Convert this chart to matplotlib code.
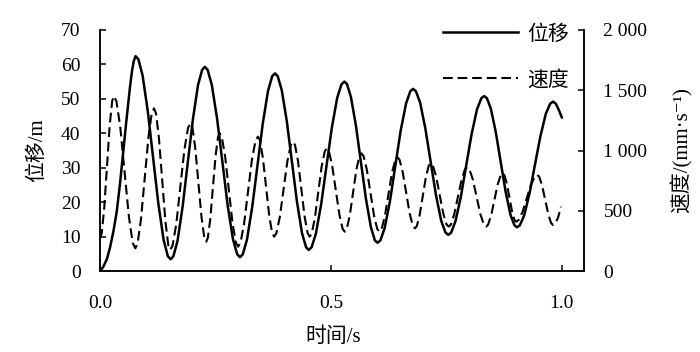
import matplotlib
matplotlib.use("Agg")
import matplotlib.pyplot as plt

# displacement (left axis, m)
t_disp = [0.000, 0.007, 0.015, 0.022, 0.029, 0.036, 0.043, 0.050, 0.057, 0.065, 0.069, 0.073, 0.077,
          0.0831, 0.0922, 0.1036, 0.115, 0.1264, 0.1378, 0.1469, 0.153,
          0.1589, 0.1678, 0.1789, 0.190, 0.2011, 0.2122, 0.2211, 0.227,
          0.2331, 0.2422, 0.2536, 0.265, 0.2764, 0.2878, 0.2969, 0.303,
          0.3091, 0.3182, 0.3296, 0.341, 0.3524, 0.3638, 0.3729, 0.379,
          0.3848, 0.3936, 0.4046, 0.4155, 0.4265, 0.4374, 0.4462, 0.452,
          0.4582, 0.4674, 0.479, 0.4905, 0.502, 0.5136, 0.5228, 0.529,
          0.5348, 0.5434, 0.5542, 0.565, 0.5758, 0.5866, 0.5952, 0.601,
          0.6072, 0.6164, 0.628, 0.6395, 0.651, 0.6626, 0.6718, 0.678,
          0.6841, 0.6932, 0.7046, 0.716, 0.7274, 0.7388, 0.7479, 0.754,
          0.7602, 0.7696, 0.7813, 0.793, 0.8047, 0.8164, 0.8258, 0.832,
          0.8377, 0.8462, 0.8569, 0.8675, 0.8782, 0.8888, 0.8973, 0.903,
          0.9092, 0.9186, 0.9303, 0.942, 0.9537, 0.9654, 0.9748, 0.981,
          0.987, 0.994, 1.000]
displacement = [0.0, 1.2, 3.5, 7.0, 11.5, 17.0, 25.0, 34.2, 43.5, 53.5, 57.8, 60.9, 62.4,
                61.5, 56.8, 46.3, 32.9, 19.5, 9.0, 4.3, 3.4,
                4.3, 8.7, 18.7, 31.4, 44.0, 54.0, 58.4, 59.3,
                58.4, 54.0, 44.2, 31.7, 19.1, 9.3, 4.9, 4.0,
                4.8, 9.1, 18.6, 30.7, 42.8, 52.3, 56.6, 57.4,
                56.6, 52.5, 43.4, 31.8, 20.1, 11.0, 6.9, 6.1,
                6.9, 10.8, 19.5, 30.6, 41.6, 50.3, 54.2, 55.0,
                54.3, 50.5, 42.2, 31.6, 21.0, 12.7, 8.9, 8.2,
                8.9, 12.5, 20.4, 30.6, 40.7, 48.6, 52.2, 52.9,
                52.2, 48.9, 41.3, 31.7, 22.1, 14.6, 11.2, 10.5,
                11.1, 14.4, 21.5, 30.7, 39.8, 47.0, 50.2, 50.8,
                50.2, 47.2, 40.4, 31.8, 23.1, 16.3, 13.3, 12.7,
                13.3, 16.2, 22.7, 31.0, 39.2, 45.7, 48.6, 49.2,
                48.6, 46.6, 44.6]

# speed (right axis, mm/s)
t_speed = [0.000, 0.0036, 0.009, 0.015, 0.021, 0.0264, 0.030,
           0.0356, 0.044, 0.0533, 0.0626, 0.0709, 0.0765,
           0.0814, 0.0887, 0.0968, 0.1049, 0.1121, 0.117,
           0.1212, 0.1275, 0.1345, 0.1415, 0.1478, 0.152,
           0.1573, 0.1652, 0.174, 0.1828, 0.1907, 0.196,
           0.2001, 0.2062, 0.213, 0.2198, 0.2259, 0.230,
           0.2335, 0.2387, 0.2445, 0.2503, 0.2555, 0.259,
           0.2638, 0.271, 0.279, 0.287, 0.2942, 0.299,
           0.3042, 0.3119, 0.3205, 0.3291, 0.3368, 0.342,
           0.3462, 0.3525, 0.3595, 0.3665, 0.3728, 0.377,
           0.3819, 0.3893, 0.3975, 0.4057, 0.4131, 0.418,
           0.4223, 0.4288, 0.436, 0.4432, 0.4497, 0.454,
           0.4584, 0.4651, 0.4725, 0.4799, 0.4866, 0.491,
           0.4957, 0.5027, 0.5105, 0.5183, 0.5253, 0.530,
           0.5343, 0.5408, 0.548, 0.5552, 0.5617, 0.566,
           0.5707, 0.5777, 0.5855, 0.5933, 0.6003, 0.605,
           0.6097, 0.6167, 0.6245, 0.6323, 0.6393, 0.644,
           0.6486, 0.6554, 0.663, 0.6706, 0.6774, 0.682,
           0.6861, 0.6922, 0.699, 0.7058, 0.7119, 0.716,
           0.7207, 0.7277, 0.7355, 0.7433, 0.7503, 0.755,
           0.7598, 0.767, 0.775, 0.783, 0.7902, 0.795,
           0.7999, 0.8073, 0.8155, 0.8237, 0.8311, 0.836,
           0.8403, 0.8468, 0.854, 0.8612, 0.8677, 0.872,
           0.8755, 0.8807, 0.8865, 0.8923, 0.8975, 0.901,
           0.9065, 0.9148, 0.924, 0.9332, 0.9415, 0.947,
           0.9511, 0.9572, 0.964, 0.9708, 0.9769, 0.981,
           0.986, 0.992, 0.998]
speed = [270, 311, 514, 861, 1208, 1411, 1452,
         1408, 1191, 820, 449, 232, 188,
         229, 428, 769, 1111, 1309, 1350,
         1309, 1108, 763, 417, 216, 175,
         212, 392, 701, 1009, 1189, 1226,
         1192, 1023, 735, 446, 277, 243,
         275, 429, 693, 958, 1111, 1143,
         1110, 949, 673, 396, 235, 202,
         234, 390, 659, 927, 1083, 1115,
         1086, 944, 700, 456, 314, 285,
         313, 447, 679, 911, 1045, 1073,
         1045, 911, 679, 447, 313, 285,
         311, 436, 652, 867, 992, 1018,
         994, 875, 672, 469, 350, 326,
         349, 460, 652, 843, 954, 977,
         954, 843, 652, 460, 349, 326,
         348, 453, 635, 817, 922, 944,
         923, 822, 649, 476, 375, 354,
         373, 465, 624, 783, 875, 894,
         876, 786, 631, 476, 387, 368,
         385, 470, 615, 759, 844, 861,
         844, 759, 615, 470, 385, 368,
         384, 459, 590, 720, 795, 811,
         797, 728, 610, 492, 423, 409,
         423, 489, 603, 717, 783, 797,
         782, 711, 590, 468, 397, 382,
         395, 445, 534]

x_ticks = [0.0, 0.5, 1.0]
x_ticklabels = ['0.0', '0.5', '1.0']
left_ticks = [0, 10, 20, 30, 40, 50, 60, 70]
right_ticks = [0, 500, 1000, 1500, 2000]
right_ticklabels = ['0', '500', '1 000', '1 500', '2 000']

plt.rcParams['lines.scale_dashes'] = False
num_font = 'Liberation Serif'
label_font = ['Liberation Serif', 'Noto Sans CJK SC', 'DejaVu Sans']

fig = plt.figure(figsize=(7.0, 3.52), dpi=100)
ax = fig.add_axes([100 / 700, 1 - 271 / 352, 484 / 700, 241 / 352])
ax2 = ax.twinx()

l1, = ax.plot(t_disp, displacement, color='black', lw=1.8, label='位移',
              solid_joinstyle='round')
l2, = ax2.plot(t_speed, speed, color='black', lw=1.5, dashes=(7, 3.5), label='速度')

ax.set_xlim(0, 1.048)
ax.set_ylim(0, 70)
ax2.set_ylim(0, 2000)

ax.set_xticks(x_ticks, x_ticklabels)
ax.set_yticks(left_ticks)
ax2.set_yticks(right_ticks, right_ticklabels)

for a in (ax, ax2):
    a.spines['top'].set_visible(False)
    for s in a.spines.values():
        s.set_linewidth(1.1)
    a.tick_params(direction='in', length=4, width=1.1, labelsize=14, pad=14)
    for lab in a.get_xticklabels() + a.get_yticklabels():
        lab.set_fontfamily(num_font)
ax.tick_params(axis='x', pad=17)

ax.set_xlabel('时间/s', family=label_font, fontsize=15)
ax.set_ylabel('位移/m', family=label_font, fontsize=15)
ax2.set_ylabel('速度/(mm·s\u207b\u00b9)', family=label_font, fontsize=15)
ax.xaxis.set_label_coords(0.481, -0.232)
ax.yaxis.set_label_coords(-0.11, 0.5)
ax2.yaxis.set_label_coords(1.178, 0.5)

leg = ax2.legend(handles=[l1, l2], loc='upper right', bbox_to_anchor=(569 / 700, 1 - 25 / 352),
                 bbox_transform=fig.transFigure, frameon=False, borderpad=0, borderaxespad=0,
                 handlelength=3.6, handletextpad=0.45, labelspacing=1.25,
                 prop={'family': label_font, 'size': 15})

fig.savefig('out.png', dpi=100)
